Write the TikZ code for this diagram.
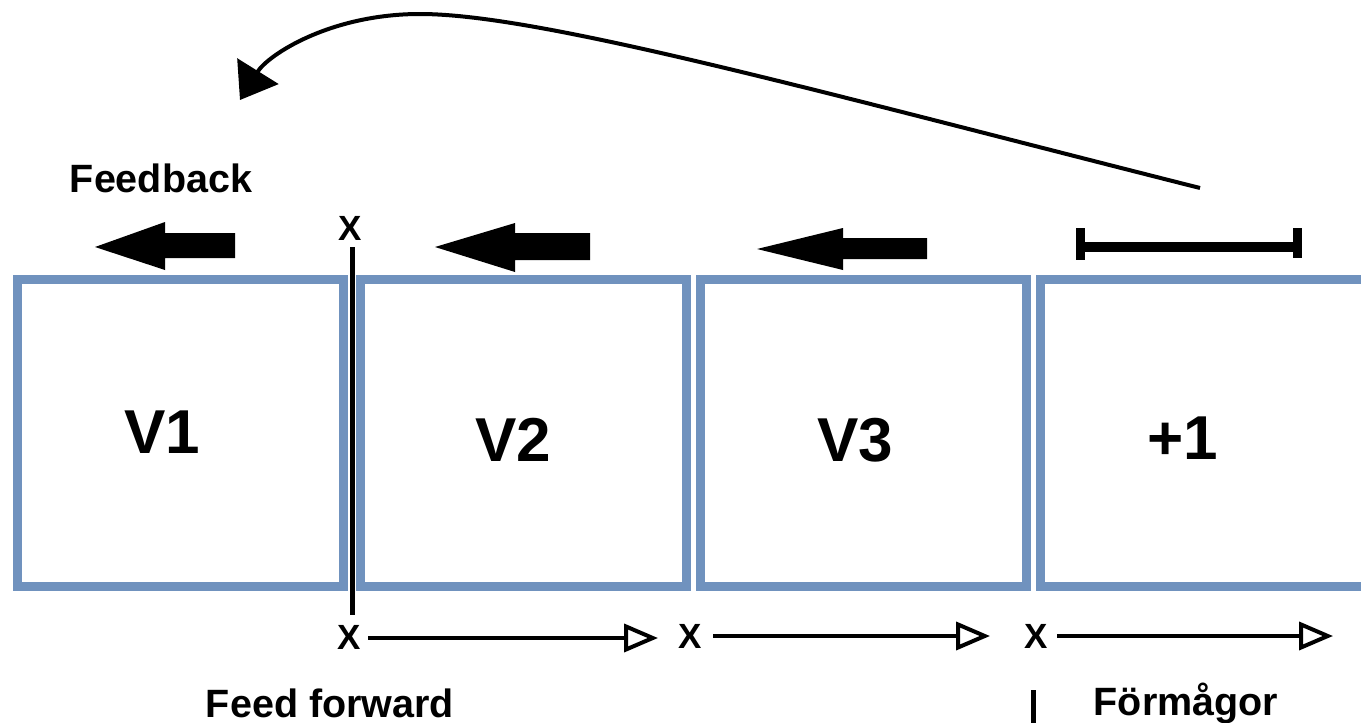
\documentclass[tikz,border=0pt]{standalone}
\usepackage{fontspec}
\setmainfont{Liberation Sans}
\usetikzlibrary{arrows.meta}
\definecolor{boxblue}{RGB}{112,146,190}
\begin{document}
\begin{tikzpicture}[x=1pt,y=-1pt,
  box/.style={draw=boxblue, line width=9pt, minimum width=326pt, minimum height=307pt, inner sep=0pt},
  big/.style={font=\fontsize{62}{70}\selectfont\bfseries, inner sep=0pt},
  lbl/.style={font=\fontsize{39.5}{44}\selectfont\bfseries, inner sep=0pt},
  xmark/.style={font=\fontsize{35}{40}\selectfont\bfseries, inner sep=0pt},
  blockarrow/.style={fill=black},
  ff/.style={line width=4pt, -{Triangle[open, length=34pt, width=28pt, line width=4pt]}},
  fbcurve/.style={line width=4pt, -{Triangle[length=34pt, width=48pt]}}
]
\useasboundingbox (0,0) rectangle (1361,723);
\clip (0,0) rectangle (1361,723);

% boxes
\node[box] (b1) at (180.5,433) {};
\node[box] (b2) at (523,433) {};
\node[box] (b3) at (863,433) {};
\node[box] (b4) at (1203.5,433) {};

\node[big] (t1) at (162,432) {V1};
\node[big] (t2) at (513,440) {V2};
\node[big] (t3) at (855,440) {V3};
\node[big] (t4) at (1183,438) {+1};

% labels
\node[lbl] (fb) at (161,178) {Feedback};
\node[lbl] (ffl) at (330,703) {Feed forward};
\node[lbl] (fm) at (1186,703) {Förmågor};

% feedback block arrows
\fill[blockarrow] (95,247) -- (165,222) -- (165,233) -- (235,233) -- (235,258) -- (165,258) -- (165,270) -- cycle;
\fill[blockarrow] (435,247) -- (515,223) -- (515,233) -- (590,233) -- (590,260) -- (515,260) -- (515,272) -- cycle;
\fill[blockarrow] (757,249) -- (843,228) -- (843,238) -- (927,238) -- (927,259) -- (843,259) -- (843,270) -- cycle;

% range bar
\coordinate (rl) at (1080.5,247);
\coordinate (rr) at (1297,247);
\draw[line width=10pt] (rl) -- (rr);
\draw[line width=9pt] (1080.5,228) -- (1080.5,260);
\draw[line width=9pt] (1297,228) -- (1297,258);

% curved feedback arrow
\coordinate (cs) at (1200,188);
\coordinate (ce) at (240,100);
\draw[fbcurve] (cs) .. controls (820,92) and (540,14) .. (420,14) .. controls (330,14) and (268,55) .. (ce);

% X marks
\node[xmark] (xt) at (350,228) {X};
\node[xmark] (x1) at (349,637) {X};
\node[xmark] (x2) at (690,636) {X};
\node[xmark] (x3) at (1036,636) {X};

% vertical line
\coordinate (vt) at (352,247);
\coordinate (vb) at (352,615);
\draw[line width=5pt] (vt) -- (vb);

% feed forward arrows
\coordinate (e1) at (658,638);
\coordinate (e2) at (990,636);
\coordinate (e3) at (1333,636);
\draw[ff] (368,638) -- (e1);
\draw[ff] (713,636) -- (e2);
\draw[ff] (1057,636) -- (e3);

% small bar
\coordinate (sb1) at (1033,690);
\coordinate (sb2) at (1033,723);
\draw[line width=5pt] (sb1) -- (sb2);
\end{tikzpicture}
\end{document}
